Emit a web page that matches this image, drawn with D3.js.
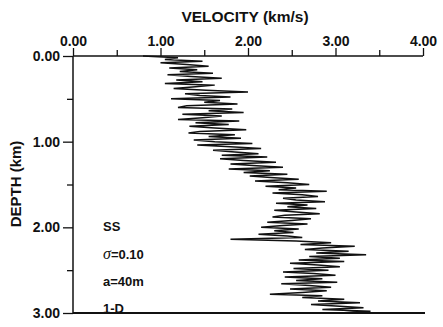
<!DOCTYPE html>
<html>
<head>
<meta charset="utf-8">
<script src="https://cdn.jsdelivr.net/npm/d3@7"></script>
<style>
	body { margin: 0; background: #fff; }
	text { font-family: "Liberation Sans", Arial, sans-serif; font-weight: bold; fill: #111; }
</style>
</head>
<body>
<div id="chart-area"></div>
<script>
// velocity log (km/s), one sample every 0.02 km of depth
var depthStep = 0.02;
var velocity = [
	0.80, 1.20, 1.05, 1.48, 1.00, 1.30, 1.55, 1.10, 1.42, 1.22,
	1.60, 1.08, 1.35, 1.70, 1.18, 1.48, 1.05, 1.62, 1.40, 1.15,
	1.52, 2.00, 1.28, 1.45, 1.80, 1.12, 1.68, 1.50, 1.88, 1.30,
	1.20, 1.82, 1.55, 1.95, 1.25, 1.70, 1.48, 1.20, 1.90, 1.40,
	1.78, 1.33, 1.62, 1.98, 1.45, 1.32, 1.85, 1.55, 1.92, 1.38,
	1.62, 2.05, 1.42, 1.80, 2.15, 1.60, 1.85, 2.12, 1.70, 2.22,
	1.68, 1.95, 2.32, 1.80, 2.10, 2.40, 1.78, 2.25, 1.95, 2.45,
	2.02, 2.30, 2.58, 2.08, 2.45, 2.70, 2.20, 2.55, 2.35, 2.90,
	2.28, 2.62, 2.80, 2.40, 2.55, 2.88, 2.32, 2.68, 2.45, 2.78,
	2.30, 2.55, 2.82, 2.42, 2.28, 2.72, 2.50, 2.22, 2.68, 2.40,
	2.15, 2.58, 2.30, 2.52, 2.12, 2.45, 2.62, 1.80, 2.55, 2.95,
	2.60, 3.22, 2.85, 2.65, 3.15, 2.78, 3.35, 2.70, 3.05, 2.58,
	3.10, 2.48, 2.80, 3.05, 2.52, 2.92, 2.40, 2.75, 3.00, 2.42,
	2.85, 2.55, 3.02, 2.38, 2.70, 2.95, 2.48, 2.90, 2.62, 2.25,
	2.85, 2.62, 3.10, 2.80, 3.28, 2.72, 3.05, 3.32, 2.85, 3.40,
	3.05
];
var velocityTicks = [0, 1, 2, 3, 4];
var velocityMinor = [0.5, 1.5, 2.5, 3.5];
var depthTicks = [0, 1, 2, 3];
var depthMinor = [0.5, 1.5, 2.5];
var notes = ["SS", "=0.10", "a=40m", "1-D"];

var margin = { top: 56, right: 20, bottom: 12, left: 73 };
var width = 443 - margin.left - margin.right;
var height = 327 - margin.top - margin.bottom;

var root = d3.select("#chart-area")
	.append("svg")
	.attr("width", 443)
	.attr("height", 327);

var svg = root.append("g")
	.attr("transform", "translate(" + margin.left + ", " + margin.top + ")");

var xScale = d3.scaleLinear()
	.domain([0, 4])
	.range([0, width]);

var yScale = d3.scaleLinear()
	.domain([0, 3])
	.range([0, height - 2]);

var fmt = d3.format(".2f");

// top axis (velocity)
svg.append("g")
	.call(d3.axisTop(xScale).tickValues(velocityMinor).tickSize(6).tickFormat(""));
svg.append("g")
	.call(d3.axisTop(xScale).tickValues(velocityTicks).tickSize(8).tickPadding(2).tickFormat(fmt));

// left axis (depth)
svg.append("g")
	.call(d3.axisLeft(yScale).tickValues(depthMinor).tickSize(6).tickFormat(""));
svg.append("g")
	.call(d3.axisLeft(yScale).tickValues(depthTicks).tickSize(10).tickPadding(3).tickFormat(fmt));

svg.selectAll(".domain").remove();
svg.selectAll(".tick line").attr("stroke", "#111").attr("stroke-width", 1.3);
svg.selectAll(".tick text").attr("font-size", "14px").attr("fill", "#111");

svg.append("line")
	.attr("x1", 0).attr("x2", width)
	.attr("y1", 0).attr("y2", 0)
	.attr("stroke", "#111").attr("stroke-width", 1.5);
svg.append("line")
	.attr("x1", 0).attr("x2", 0)
	.attr("y1", 0).attr("y2", yScale(3))
	.attr("stroke", "#111").attr("stroke-width", 1.5);
svg.append("line")
	.attr("x1", 0).attr("x2", width + 2)
	.attr("y1", yScale(3)).attr("y2", yScale(3))
	.attr("stroke", "#111").attr("stroke-width", 2);

// axis titles
root.append("text")
	.attr("x", 245)
	.attr("y", 22)
	.attr("text-anchor", "middle")
	.attr("font-size", "15.5px")
	.text("VELOCITY (km/s)");

root.append("text")
	.attr("x", -184)
	.attr("y", 21)
	.attr("transform", "rotate(-90)")
	.attr("text-anchor", "middle")
	.attr("font-size", "15px")
	.text("DEPTH (km)");

// the velocity profile
var line = d3.line()
	.x(d => xScale(d))
	.y((d, i) => yScale(i * depthStep));

svg.append("path")
	.datum(velocity)
	.attr("fill", "none")
	.attr("stroke", "#111")
	.attr("stroke-width", 1.5)
	.attr("stroke-linejoin", "miter")
	.attr("d", line);

// annotations
var noteY = [231, 259, 286, 313];
notes.forEach((n, i) => {
	var t = root.append("text")
		.attr("x", 103)
		.attr("y", noteY[i])
		.attr("font-size", "13px");
	if (i === 1) {
		t.append("tspan")
			.attr("font-family", "'Liberation Serif', serif")
			.attr("font-style", "italic")
			.attr("font-weight", "normal")
			.attr("font-size", "16px")
			.text("\u03C3");
	}
	t.append("tspan").text(n);
});
</script>
</body>
</html>
